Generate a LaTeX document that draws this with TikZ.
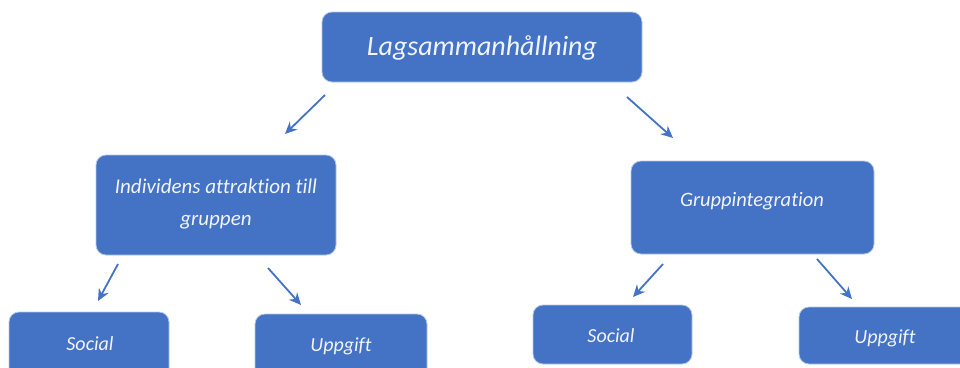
\documentclass[tikz,border=0pt]{standalone}
\usepackage{fontspec}
\setmainfont{Carlito}[Ligatures={NoCommon}]
\usetikzlibrary{arrows.meta}
\definecolor{boxblue}{HTML}{4472C4}
\definecolor{txt}{HTML}{F2F4FB}
\tikzset{
  box/.style={draw=white!60!boxblue, line width=0.8pt, fill=boxblue, rounded corners=10pt},
  lbl/.style={text=txt, font=\itshape, inner sep=0pt},
  arr/.style={draw=boxblue, line width=1.8pt, -{Stealth[length=12pt,width=11pt]}}
}
\begin{document}
\begin{tikzpicture}[x=1pt,y=-1pt]
\useasboundingbox (0,0) rectangle (960,367);
\clip (0,0) rectangle (960,367);
% boxes
\draw[box] (322,12) rectangle (642,82);
\draw[box] (96,155) rectangle (336,255);
\draw[box] (631,161) rectangle (874,254);
\draw[box] (9,312) rectangle (169,380);
\draw[box] (255,314) rectangle (427,380);
\draw[box] (533,305) rectangle (692,364);
\draw[box] (799,307) rectangle (975,364);
% texts
\node[lbl, font=\itshape\fontsize{28}{32}\selectfont] (top) at (482,48) {Lagsammanhållning};
\node[lbl, font=\itshape\fontsize{21}{32}\selectfont, align=center] (ind) at (216,204) {Individens attraktion till\\gruppen};
\node[lbl, font=\itshape\fontsize{20.5}{24}\selectfont] (grp) at (752,201) {Gruppintegration};
\node[lbl, font=\itshape\fontsize{20}{24}\selectfont] (s1) at (90,344) {Social};
\node[lbl, font=\itshape\fontsize{20}{24}\selectfont] (u1) at (341,346) {Uppgift};
\node[lbl, font=\itshape\fontsize{20}{24}\selectfont] (s2) at (611,336) {Social};
\node[lbl, font=\itshape\fontsize{20}{24}\selectfont] (u2) at (885,338) {Uppgift};
% arrow endpoints
\coordinate (a1s) at (325,95);  \coordinate (a1e) at (285,134);
\coordinate (a2s) at (627,97);  \coordinate (a2e) at (673,138);
\coordinate (a3s) at (118,264); \coordinate (a3e) at (98,301);
\coordinate (a4s) at (268,268); \coordinate (a4e) at (301,305);
\coordinate (a5s) at (663,264); \coordinate (a5e) at (633,297);
\coordinate (a6s) at (817,259); \coordinate (a6e) at (852,299);
\draw[arr] (a1s) -- (a1e);
\draw[arr] (a2s) -- (a2e);
\draw[arr] (a3s) -- (a3e);
\draw[arr] (a4s) -- (a4e);
\draw[arr] (a5s) -- (a5e);
\draw[arr] (a6s) -- (a6e);
\end{tikzpicture}
\end{document}
